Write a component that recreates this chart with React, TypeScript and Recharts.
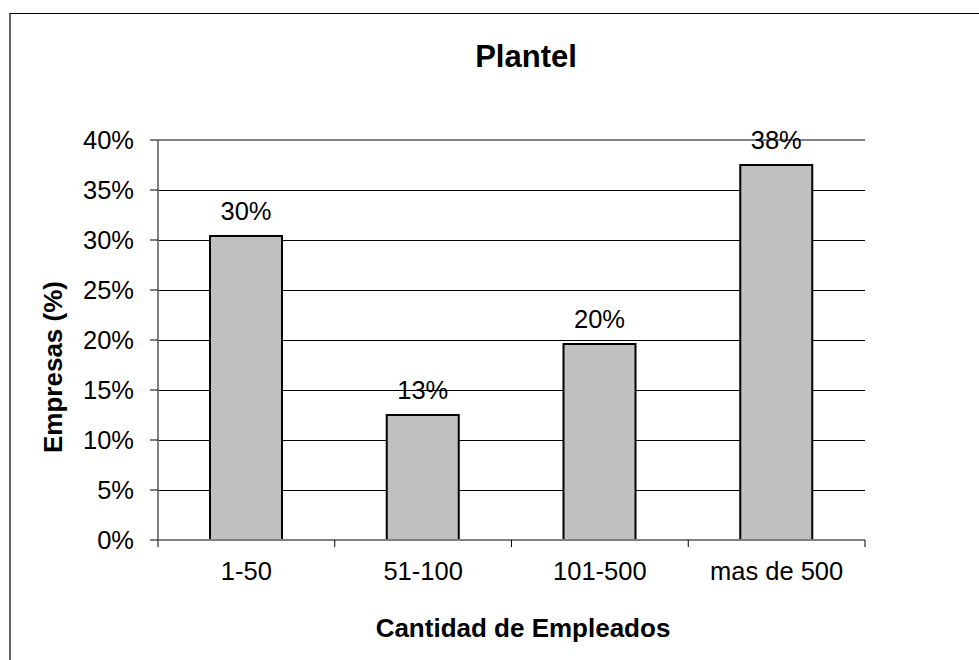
import React from 'react';
import {
  BarChart,
  Bar,
  XAxis,
  YAxis,
  CartesianGrid,
  LabelList,
  ReferenceLine,
} from 'recharts';

// Datos
const categories = ['1-50', '51-100', '101-500', 'mas de 500'];
const empresas = [30.4, 12.5, 19.6, 37.5];
const yTicks = [0, 5, 10, 15, 20, 25, 30, 35, 40];

const data = categories.map((name, i) => ({ name, value: empresas[i] }));

const FONT = '"Liberation Sans", Arial, Helvetica, sans-serif';

// tick de categoria: etiqueta centrada + marca en el borde izquierdo de la banda
const CategoryTick = (props: any) => {
  const { x, y, payload, index } = props;
  const half = payload?.offset ?? 88;
  const isLast = index === categories.length - 1;
  return (
    <g>
      <line x1={x - half} y1={y} x2={x - half} y2={y + 7} stroke="#000" strokeWidth={1} />
      {isLast && <line x1={x + half} y1={y} x2={x + half} y2={y + 7} stroke="#000" strokeWidth={1} />}
      <text x={x} y={y + 40} textAnchor="middle" fontSize={25.5} fontFamily={FONT} fill="#000">
        {payload.value}
      </text>
    </g>
  );
};

const YTitle = () => (
  <text
    x={62}
    y={367}
    transform="rotate(-90, 62, 367)"
    textAnchor="middle"
    fontSize={26}
    fontWeight="bold"
    fontFamily={FONT}
    fill="#000"
  >
    Empresas (%)
  </text>
);

export default function App() {
  return (
    <div
      style={{
        position: 'absolute',
        left: 0,
        top: 0,
        width: 979,
        height: 660,
        background: '#fff',
        fontFamily: FONT,
        overflow: 'hidden',
      }}
    >
      <div
        style={{
          position: 'absolute',
          left: 9,
          top: 13,
          width: 990,
          height: 700,
          borderTop: '1.5px solid #000',
          borderLeft: '2px solid #666',
        }}
      />
      <div
        style={{
          position: 'absolute',
          left: 0,
          width: 1052,
          top: 41,
          textAlign: 'center',
          fontSize: 31,
          fontWeight: 'bold',
          lineHeight: '31px',
          color: '#000',
        }}
      >
        Plantel
      </div>
      <div
        style={{
          position: 'absolute',
          left: 0,
          width: 1046,
          top: 615,
          textAlign: 'center',
          fontSize: 26,
          fontWeight: 'bold',
          lineHeight: '26px',
          color: '#000',
        }}
      >
        Cantidad de Empleados
      </div>
      <div style={{ position: 'absolute', left: 0, top: 0 }}>
        <BarChart
          width={979}
          height={660}
          data={data}
          margin={{ top: 140, right: 114, bottom: 0, left: 0 }}
          barCategoryGap="59%"
        >
          <CartesianGrid vertical={false} stroke="#000" strokeWidth={1} shapeRendering="crispEdges" />
          <ReferenceLine y={40} stroke="#808080" strokeWidth={2} />
          <XAxis
            dataKey="name"
            height={120}
            axisLine={{ stroke: '#808080', strokeWidth: 2 }}
            tickLine={false}
            tickSize={0}
            tickMargin={0}
            interval={0}
            tick={<CategoryTick />}
          />
          <YAxis
            width={158}
            domain={[0, 40]}
            ticks={yTicks}
            interval={0}
            tickFormatter={(v) => `${v}%`}
            axisLine={{ stroke: '#808080', strokeWidth: 2 }}
            tickLine={{ stroke: '#000' }}
            tickSize={8}
            tickMargin={16}
            tick={{ fontSize: 25.5, fill: '#000', fontFamily: FONT }}
            label={<YTitle />}
          />
          <YAxis
            yAxisId="right"
            orientation="right"
            width={0}
            domain={[0, 40]}
            axisLine={{ stroke: '#808080', strokeWidth: 2 }}
            tickLine={false}
            tick={false}
          />
          <Bar
            dataKey="value"
            fill="#C0C0C0"
            stroke="#000"
            strokeWidth={2}
            barSize={72}
            isAnimationActive={false}
          >
            <LabelList
              dataKey="value"
              position="top"
              offset={16}
              formatter={(v: any) => `${Math.round(Number(v))}%`}
              style={{ fontSize: 25.5, fill: '#000', fontFamily: FONT }}
            />
          </Bar>
        </BarChart>
      </div>
    </div>
  );
}
